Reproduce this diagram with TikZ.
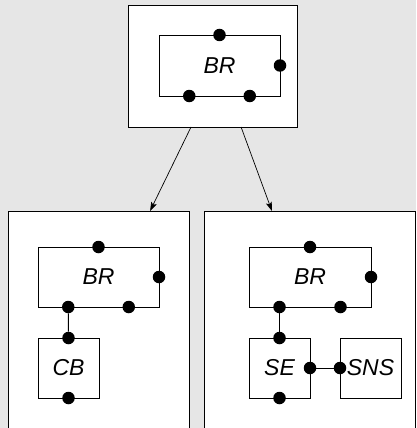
\documentclass[tikz,border=0pt]{standalone}
\usepackage{fontspec}
\setmainfont{Liberation Sans}
\usetikzlibrary{calc,arrows.meta}
\definecolor{canvas}{HTML}{E6E6E6}
\tikzset{
  frame/.style={draw=black, line width=0.9pt, fill=white, inner sep=0pt, outer sep=0pt},
  part/.style={draw=black, line width=0.9pt, fill=white, inner sep=0pt, outer sep=0pt,
    font=\fontsize{23}{26}\selectfont\itshape},
  port/.style={circle, fill=black, inner sep=0pt, minimum size=12.5pt},
  wire/.style={line width=0.9pt, black},
  link/.style={line width=0.7pt, black, -{Stealth[length=9pt,width=6pt,inset=2pt]}}
}
\begin{document}
\begin{tikzpicture}[x=1pt, y=-1pt]
  % canvas
  \path[use as bounding box, fill=canvas] (0,0) rectangle (416,428);
  \clip (0,0) rectangle (416,428);

  % containers
  \node[frame, minimum width=169pt, minimum height=122pt] (top) at (212.5,66) {};
  \node[frame, minimum width=181pt, minimum height=240pt] (left) at (98.5,331) {};
  \node[frame, minimum width=211pt, minimum height=240pt] (right) at (309.5,331) {};

  % top: BR
  \node[part, minimum width=121pt, minimum height=61pt] (brT) at (219.5,65.5) {BR};
  \node[port] (brTn) at (brT.north) {};
  \node[port] (brTe) at (brT.east) {};
  \node[port] (brTs1) at ($(brT.south west)!0.25!(brT.south east)$) {};
  \node[port] (brTs2) at ($(brT.south west)!0.75!(brT.south east)$) {};

  % left: BR with CB
  \node[part, minimum width=121pt, minimum height=60pt] (brL) at (98.5,277) {BR};
  \node[part, minimum width=61pt, minimum height=60pt] (cb) at (68.5,368) {CB};
  \node[port] (brLn) at (brL.north) {};
  \node[port] (brLe) at (brL.east) {};
  \node[port] (brLs1) at ($(brL.south west)!0.25!(brL.south east)$) {};
  \node[port] (brLs2) at ($(brL.south west)!0.75!(brL.south east)$) {};
  \node[port] (cbn) at (cb.north) {};
  \node[port] (cbs) at (cb.south) {};
  \draw[wire] (brLs1) -- (cbn);

  % right: BR with SE and SNS
  \node[part, minimum width=122pt, minimum height=60pt] (brR) at (310,277) {BR};
  \node[part, minimum width=61pt, minimum height=60pt] (se) at (279.5,368) {SE};
  \node[part, minimum width=61pt, minimum height=60pt] (sns) at (370.5,368) {SNS};
  \node[port] (brRn) at (brR.north) {};
  \node[port] (brRe) at (brR.east) {};
  \node[port] (brRs1) at ($(brR.south west)!0.25!(brR.south east)$) {};
  \node[port] (brRs2) at ($(brR.south west)!0.75!(brR.south east)$) {};
  \node[port] (sen) at (se.north) {};
  \node[port] (ses) at (se.south) {};
  \node[port] (see) at (se.east) {};
  \node[port] (snsw) at (sns.west) {};
  \draw[wire] (brRs1) -- (sen);
  \draw[wire] (see) -- (snsw);

  % refinement arrows
  \draw[link] ($(top.south west)!0.373!(top.south east)$) -- ($(left.north west)!0.785!(left.north east)$);
  \draw[link] ($(top.south west)!0.669!(top.south east)$) -- ($(right.north west)!0.322!(right.north east)$);
\end{tikzpicture}
\end{document}
